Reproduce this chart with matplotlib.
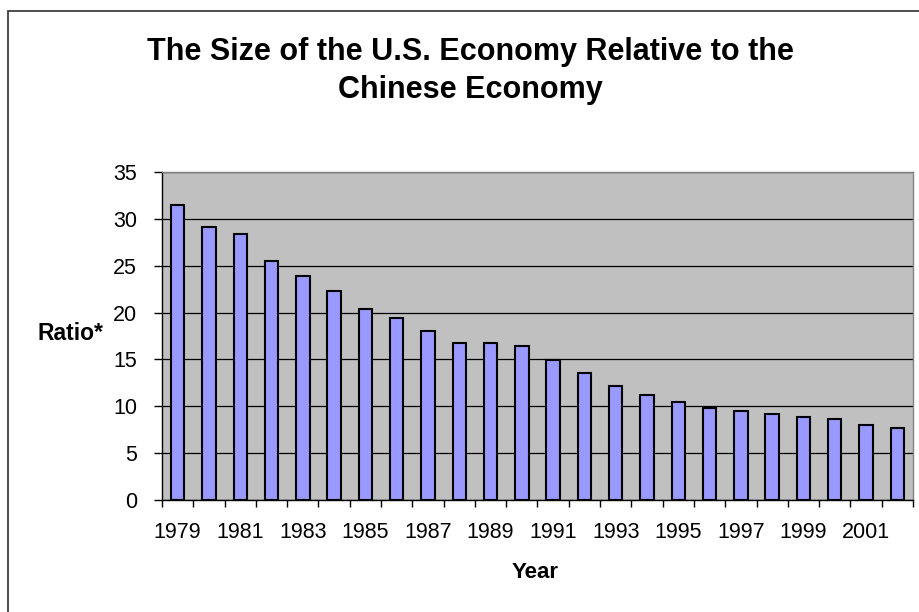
import matplotlib
matplotlib.use("Agg")
import matplotlib.pyplot as plt
from matplotlib.patches import Rectangle
import numpy as np

years = list(range(1979, 2003))
ratio = [31.5, 29.1, 28.4, 25.5, 23.9, 22.3, 20.4, 19.4, 18.0, 16.8, 16.7, 16.4,
         14.9, 13.5, 12.2, 11.2, 10.5, 9.85, 9.5, 9.2, 8.9, 8.6, 8.0, 7.7]
y_ticks = [0, 5, 10, 15, 20, 25, 30, 35]
title_lines = ["The Size of the U.S. Economy Relative to the", "Chinese Economy"]

plt.rcParams['font.family'] = ['Liberation Sans', 'DejaVu Sans']

W, H = 920, 612
fig = plt.figure(figsize=(W / 100, H / 100), dpi=100)
fig.patch.set_facecolor('white')

# chart frame
fig.patches.append(Rectangle((8 / W, -0.1), 1.2, 1 - 11 / H + 0.1,
                             transform=fig.transFigure, fill=False,
                             edgecolor='#303030', linewidth=1.2))

ax = fig.add_axes([162 / W, (H - 500) / H, (913 - 162) / W, (500 - 172) / H])
ax.set_facecolor('#C0C0C0')

x = np.arange(len(years))
ax.bar(x, ratio, width=0.43, color='#9999FF', edgecolor='black', linewidth=1.5, zorder=3)

ax.set_xlim(-0.5, len(years) - 0.5)
ax.set_ylim(0, 35)
ax.set_yticks(y_ticks)
ax.yaxis.grid(True, color='black', linewidth=0.9, zorder=1)
ax.set_axisbelow(True)

# category boundary ticks, labels every other year
ax.set_xticks(np.arange(-0.5, len(years), 1.0))
ax.set_xticklabels([])
ax.set_xticks(x[::2], minor=True)
ax.set_xticklabels([str(y) for y in years[::2]], minor=True)
ax.tick_params(axis='x', which='major', direction='out', length=5, width=1, color='black')
ax.tick_params(axis='x', which='minor', length=0, pad=16, labelsize=15.5)
ax.tick_params(axis='y', direction='out', length=6, width=1, pad=12, labelsize=15.5)

for side in ('left', 'bottom'):
    ax.spines[side].set_color('black')
    ax.spines[side].set_linewidth(1.0)
for side in ('top', 'right'):
    ax.spines[side].set_color('#808080')
    ax.spines[side].set_linewidth(1.0)

fig.text(470.5 / W, 1 - 60 / H, title_lines[0], ha='center', va='baseline',
         fontsize=22, fontweight='bold')
fig.text(470.5 / W, 1 - 98.3 / H, title_lines[1], ha='center', va='baseline',
         fontsize=22, fontweight='bold')
fig.text(70 / W, 1 - 340 / H, "Ratio*", ha='center', va='baseline',
         fontsize=16.5, fontweight='bold')
fig.text(535 / W, 1 - 578 / H, "Year", ha='center', va='baseline',
         fontsize=16, fontweight='bold')

fig.savefig("out.png", dpi=100)
